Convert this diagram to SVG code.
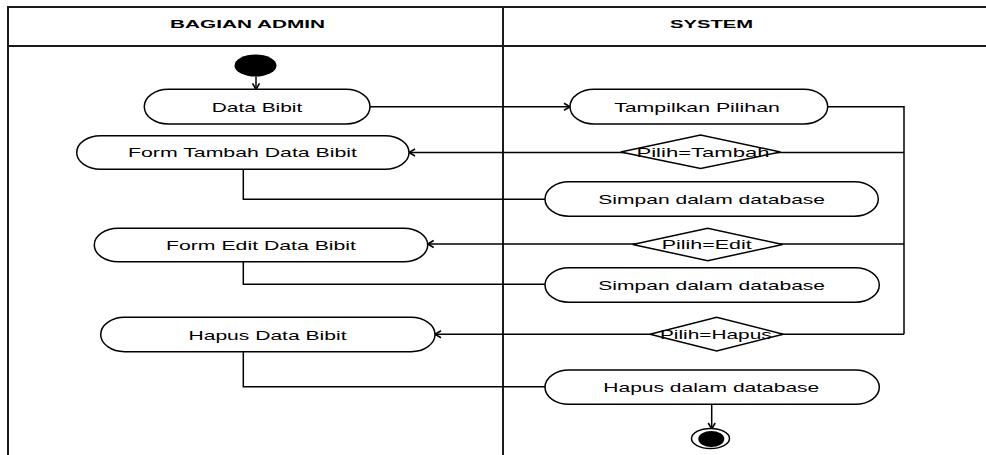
<svg xmlns="http://www.w3.org/2000/svg" width="986" height="455" viewBox="0 0 986 455">
<style>
.frame{stroke:#1a1a1a;stroke-width:2;fill:none}
.hdr{font-family:"Liberation Sans",Arial,sans-serif;font-weight:bold;font-size:10.7px;fill:#000;text-anchor:middle}
.lbl{font-family:"Liberation Sans",Arial,sans-serif;font-size:13.5px;fill:#000;text-anchor:middle}
.act{fill:#fff;stroke:#000;stroke-width:1.5}
.dec{fill:#fff;stroke:#000;stroke-width:1.5}
.con{fill:none;stroke:#000;stroke-width:1.5}
.arr{marker-end:url(#ah)}
</style>
<defs>
<marker id="ah" markerUnits="userSpaceOnUse" markerWidth="12" markerHeight="12" viewBox="-8 -6 10 12" refX="0" refY="0" orient="auto">
<path d="M-6,-3.5 L0,0 L-6,3.5" fill="none" stroke="#000" stroke-width="1.6"/>
</marker>
</defs>
<rect width="986" height="455" fill="#fff"/>
<g id="swimlanes">
<line class="frame" x1="8" y1="7" x2="986" y2="7"/>
<line class="frame" x1="8" y1="46" x2="986" y2="46"/>
<line class="frame" x1="8" y1="6" x2="8" y2="455"/>
<line class="frame" x1="503" y1="6" x2="503" y2="455"/>
<text class="hdr" x="247.5" y="27.7" textLength="155" lengthAdjust="spacingAndGlyphs">BAGIAN ADMIN</text>
<text class="hdr" x="711.5" y="27.7" textLength="83" lengthAdjust="spacingAndGlyphs">SYSTEM</text>
</g>
<g id="connectors">
<line class="con arr" x1="256" y1="76.5" x2="256" y2="89.3"/>
<line class="con arr" x1="370" y1="106.7" x2="570" y2="106.7"/>
<polyline class="con" points="827.7,106.7 904,106.7 904,334.3"/>
<line class="con arr" x1="904" y1="152.5" x2="409" y2="152.5"/>
<line class="con arr" x1="904" y1="244" x2="427.7" y2="244"/>
<line class="con arr" x1="904" y1="334.3" x2="435" y2="334.3"/>
<polyline class="con" points="243.3,169.3 243.3,199.3 545,199.3"/>
<polyline class="con" points="243.3,261.7 243.3,284.3 545,284.3"/>
<polyline class="con" points="243.3,351.7 243.3,386.7 545,386.7"/>
<line class="con arr" x1="711.7" y1="404.3" x2="711.7" y2="429"/>
</g>
<g id="start">
<ellipse cx="255.5" cy="65.5" rx="21" ry="11" fill="#000"/>
</g>
<g id="data-bibit">
<rect class="act" x="144.3" y="89.3" width="225.7" height="34.7" rx="24" ry="17.3"/>
<text class="lbl" x="257" y="111.7" textLength="90.6" lengthAdjust="spacingAndGlyphs">Data Bibit</text>
</g>
<g id="tampilkan-pilihan">
<rect class="act" x="570" y="89.3" width="257.7" height="34.7" rx="24" ry="17.3"/>
<text class="lbl" x="697" y="111.7" textLength="165.7" lengthAdjust="spacingAndGlyphs">Tampilkan Pilihan</text>
</g>
<g id="pilih-tambah">
<polygon class="dec" points="620.7,152 700.6,135 780.5,152 700.6,168.5"/>
<text class="lbl" x="703" y="157" textLength="133" lengthAdjust="spacingAndGlyphs">Pilih=Tambah</text>
</g>
<g id="form-tambah">
<rect class="act" x="76.7" y="135.7" width="332.3" height="33.6" rx="24" ry="16.8"/>
<text class="lbl" x="242.5" y="156.7" textLength="229" lengthAdjust="spacingAndGlyphs">Form Tambah Data Bibit</text>
</g>
<g id="simpan-1">
<rect class="act" x="545" y="181.7" width="333.3" height="34.6" rx="24" ry="17.3"/>
<text class="lbl" x="711.7" y="204.2" textLength="226.7" lengthAdjust="spacingAndGlyphs">Simpan dalam database</text>
</g>
<g id="pilih-edit">
<polygon class="dec" points="632.7,244.5 707.7,228.3 782.7,244.5 707.7,260.7"/>
<text class="lbl" x="706.7" y="249.3" textLength="90" lengthAdjust="spacingAndGlyphs">Pilih=Edit</text>
</g>
<g id="form-edit">
<rect class="act" x="94.3" y="228.3" width="333.4" height="33.4" rx="24" ry="16.7"/>
<text class="lbl" x="261" y="250" textLength="190" lengthAdjust="spacingAndGlyphs">Form Edit Data Bibit</text>
</g>
<g id="simpan-2">
<rect class="act" x="545" y="267.7" width="334.3" height="34.6" rx="24" ry="17.3"/>
<text class="lbl" x="711.7" y="290.2" textLength="226.7" lengthAdjust="spacingAndGlyphs">Simpan dalam database</text>
</g>
<g id="pilih-hapus">
<polygon class="dec" points="650,334.2 716.7,317.3 783.3,334.2 716.7,351"/>
<text class="lbl" x="715.8" y="339.2" textLength="111.7" lengthAdjust="spacingAndGlyphs">Pilih=Hapus</text>
</g>
<g id="hapus-data-bibit">
<rect class="act" x="100.7" y="317.3" width="334.3" height="34.4" rx="24" ry="17.2"/>
<text class="lbl" x="267.5" y="339.5" textLength="158" lengthAdjust="spacingAndGlyphs">Hapus Data Bibit</text>
</g>
<g id="hapus-database">
<rect class="act" x="545" y="370" width="334.3" height="34.3" rx="24" ry="17.2"/>
<text class="lbl" x="711.3" y="392.2" textLength="216" lengthAdjust="spacingAndGlyphs">Hapus dalam database</text>
</g>
<g id="end">
<ellipse cx="710.5" cy="438.5" rx="19" ry="10" fill="#fff" stroke="#000" stroke-width="1.5"/>
<ellipse cx="711.3" cy="439" rx="13" ry="8" fill="#000"/>
</g>
</svg>
